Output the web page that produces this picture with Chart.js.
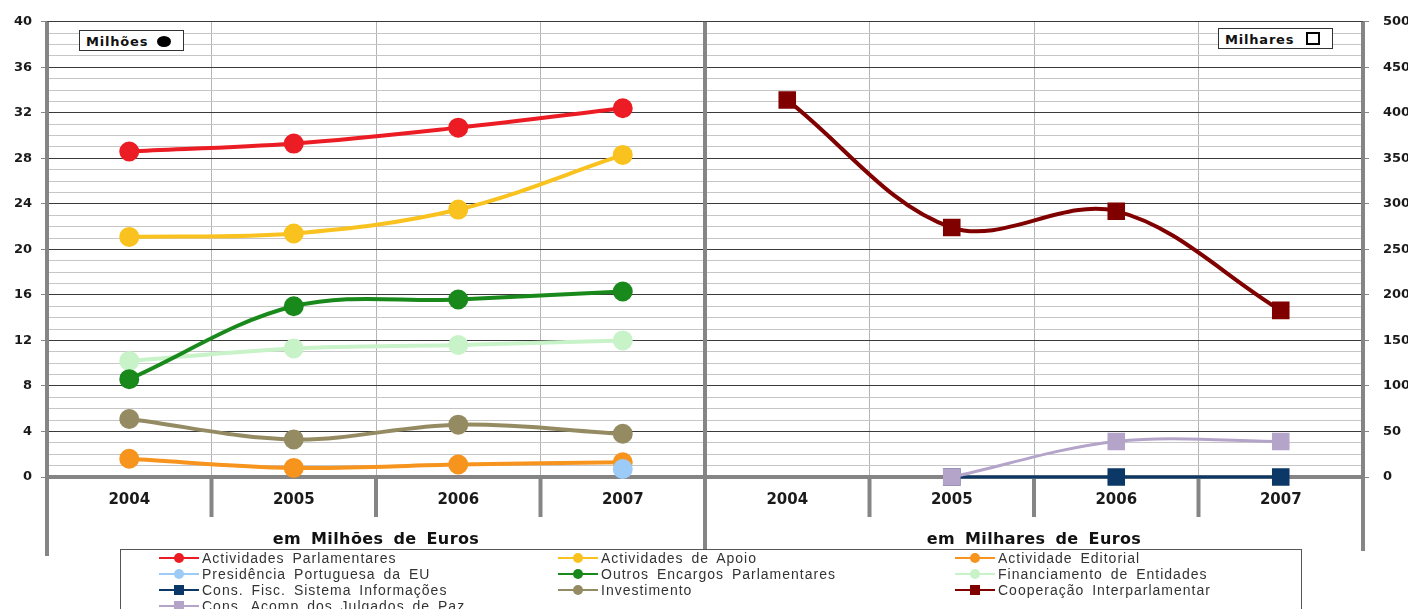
<!DOCTYPE html>
<html>
<head>
<meta charset="utf-8">
<script src="https://cdn.jsdelivr.net/npm/chart.js@4.4.1/dist/chart.umd.min.js"></script>
<style>
html,body{margin:0;padding:0;background:#fff;}
#wrap{position:relative;width:1408px;height:609px;overflow:hidden;}
#chart{position:absolute;left:0;top:0;}
.inset{position:absolute;border:1px solid #333;background:#fff;font:bold 13px 'DejaVu Sans',sans-serif;color:#111;padding:0 6px;height:21px;line-height:21px;letter-spacing:0.8px;white-space:nowrap;box-sizing:border-box;}
.blob{display:inline-block;width:14px;height:11px;border-radius:50%;background:#000;margin-left:9px;vertical-align:-1px;}
.sq{display:inline-block;width:10px;height:9px;border:2.5px solid #000;margin-left:12px;vertical-align:-1px;}
.ptitle{position:absolute;top:529px;width:400px;font:bold 16px 'DejaVu Sans',sans-serif;color:#111;text-align:center;word-spacing:4px;letter-spacing:0.4px;}
#legend{position:absolute;left:120px;top:549px;width:1180px;height:80px;border:1px solid #555;background:#fff;}
.li{position:absolute;font:14px 'Liberation Sans',Arial,sans-serif;color:#333;white-space:nowrap;line-height:16px;letter-spacing:1px;word-spacing:3px;}
.mk{display:inline-block;position:relative;width:40px;height:16px;vertical-align:top;margin-right:3px;}
.mk i{position:absolute;left:0;right:0;top:7px;height:2px;}
.mk b{position:absolute;left:15px;top:3px;width:10px;height:10px;}
</style>
</head>
<body>
<div id="wrap">
  <canvas id="chart" width="1408" height="609"></canvas>
  <div class="inset" style="left:79px;top:30px;width:105px;">Milhões<span class="blob"></span></div>
  <div class="inset" style="left:1218px;top:28px;width:115px;">Milhares<span class="sq"></span></div>
  <div class="ptitle" style="left:176px;">em Milhões de Euros</div>
  <div class="ptitle" style="left:834px;">em Milhares de Euros</div>
  <div id="legend"></div>
</div>
<script>
// categorias (duas metades: milhões | milhares)
var years = ['2004', '2005', '2006', '2007'];
var categories = years.concat(years);

// em milhões de euros (eixo esquerdo)
var actividadesParlamentares = [28.6, 29.3, 30.7, 32.4];
var actividadesApoio = [21.1, 21.4, 23.5, 28.3];
var actividadeEditorial = [1.6, 0.8, 1.1, 1.3];
var presidenciaUE = [null, null, null, 0.7];
var outrosEncargos = [8.6, 15.0, 15.6, 16.3];
var financiamentoEntidades = [10.2, 11.3, 11.6, 12.0];
var investimento = [5.1, 3.3, 4.6, 3.8];

// em milhares de euros (eixo direito)
var consFiscSI = [null, 0, 0, 0];
var cooperacao = [414, 274, 292, 183];
var consAcompPaz = [null, 0, 39, 39];

var pad = [null, null, null, null];
function leftHalf(a) { return a.concat(pad); }
function rightHalf(a) { return pad.concat(a); }

var series = [
    { label: 'Actividades Parlamentares', data: leftHalf(actividadesParlamentares), color: '#ec1c24', axis: 'y' },
    { label: 'Actividades de Apoio', data: leftHalf(actividadesApoio), color: '#f9c21e', axis: 'y' },
    { label: 'Actividade Editorial', data: leftHalf(actividadeEditorial), color: '#f7941d', axis: 'y' },
    { label: 'Presidência Portuguesa da EU', data: leftHalf(presidenciaUE), color: '#9ccbf7', axis: 'y', order: -1 },
    { label: 'Outros Encargos Parlamentares', data: leftHalf(outrosEncargos), color: '#18891a', axis: 'y' },
    { label: 'Financiamento de Entidades', data: leftHalf(financiamentoEntidades), color: '#c8f3c8', axis: 'y' },
    { label: 'Cons. Fisc. Sistema Informações', data: rightHalf(consFiscSI), color: '#0b3866', axis: 'y2', width: 3 },
    { label: 'Investimento', data: leftHalf(investimento), color: '#958b62', axis: 'y' },
    { label: 'Cooperação Interparlamentar', data: rightHalf(cooperacao), color: '#800000', axis: 'y2' },
    { label: 'Cons. Acomp dos Julgados de Paz', data: rightHalf(consAcompPaz), color: '#b4a4c9', axis: 'y2', width: 3, order: -1 }
];

var datasets = series.map(function (s) {
    var square = s.axis === 'y2';
    return {
        label: s.label,
        data: s.data,
        yAxisID: s.axis,
        borderColor: s.color,
        backgroundColor: s.color,
        borderWidth: s.width || 4,
        pointStyle: square ? 'rect' : 'circle',
        pointRadius: square ? 11 : 9,
        pointBorderWidth: 2,
        pointBackgroundColor: s.color,
        pointBorderColor: s.color,
        tension: 0.35,
        clip: false,
        order: s.order || 0
    };
});

var frameLines = {
    id: 'frameLines',
    beforeDatasetsDraw: function (chart) {
        var ctx = chart.ctx, a = chart.chartArea, x = chart.scales.x;
        ctx.save();
        ctx.strokeStyle = '#858585';
        ctx.lineWidth = 4;
        function seg(px, y0, y1) { ctx.beginPath(); ctx.moveTo(px, y0); ctx.lineTo(px, y1); ctx.stroke(); }
        var mid = (x.getPixelForValue(3) + x.getPixelForValue(4)) / 2;
        seg(a.left, a.top, 556);
        seg(a.right, a.top, 551);
        seg(mid, a.top, 549);
        for (var i = 1; i < 8; i++) {
            if (i === 4) continue;
            var px = (x.getPixelForValue(i - 1) + x.getPixelForValue(i)) / 2;
            seg(px, a.bottom, a.bottom + 40);
        }
        ctx.restore();
    }
};

var tickFont = { family: 'DejaVu Sans', size: 13, weight: 'bold' };

new Chart(document.getElementById('chart'), {
    type: 'line',
    data: { labels: categories, datasets: datasets },
    plugins: [frameLines],
    options: {
        responsive: false,
        animation: false,
        devicePixelRatio: 1,
        layout: { padding: { top: 20 } },
        plugins: { legend: { display: false }, tooltip: { enabled: false } },
        scales: {
            x: {
                offset: true,
                grid: {
                    offset: true,
                    drawTicks: false,
                    lineWidth: 1,
                    color: function (c) { return c.index === 4 ? 'rgba(0,0,0,0)' : '#b4b4b4'; }
                },
                border: { color: '#858585', width: 4 },
                ticks: { padding: 14, color: '#1a1a1a', autoSkip: false, maxRotation: 0, font: { family: 'DejaVu Sans', size: 15, weight: 'bold' } },
                afterFit: function (s) { s.height = 132; }
            },
            y: {
                position: 'left',
                min: 0,
                max: 40,
                border: { display: false },
                grid: {
                    tickLength: 6,
                    lineWidth: 1,
                    color: function (c) { return c.tick.value % 4 === 0 ? '#3a3a3a' : '#c6c6c6'; },
                    tickColor: function (c) { return c.tick.value % 4 === 0 ? '#858585' : 'rgba(0,0,0,0)'; }
                },
                ticks: {
                    stepSize: 1,
                    autoSkip: false,
                    padding: 9,
                    color: '#1a1a1a',
                    font: tickFont,
                    callback: function (v) { return v % 4 === 0 ? v : ''; }
                },
                afterFit: function (s) { s.width = 47; }
            },
            y2: {
                position: 'right',
                min: 0,
                max: 500,
                border: { display: false },
                grid: { drawOnChartArea: false, tickLength: 6, tickColor: '#858585' },
                ticks: { stepSize: 50, padding: 14, color: '#1a1a1a', font: tickFont },
                afterFit: function (s) { s.width = 45; }
            }
        }
    }
});

// legenda em 3 colunas
var cols = [38, 437, 834];
var legend = document.getElementById('legend');
series.forEach(function (s, i) {
    var el = document.createElement('div');
    el.className = 'li';
    el.style.left = cols[i % 3] + 'px';
    el.style.top = (Math.floor(i / 3) * 16) + 'px';
    var round = s.axis === 'y2' ? '0' : '50%';
    el.innerHTML = '<span class="mk"><i style="background:' + s.color + '"></i><b style="background:' + s.color + ';border-radius:' + round + '"></b></span>' + s.label;
    legend.appendChild(el);
});
</script>
</body>
</html>
